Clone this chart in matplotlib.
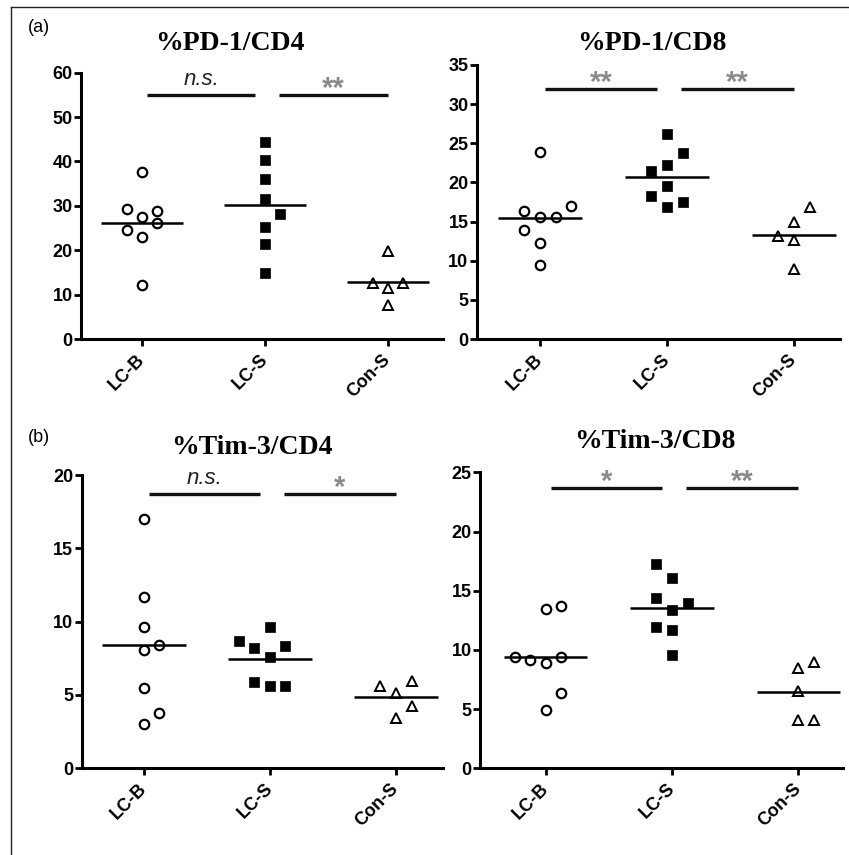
import numpy as np
import matplotlib
matplotlib.use('Agg')
import matplotlib.pyplot as plt
from matplotlib.lines import Line2D

groups = ['LC-B', 'LC-S', 'Con-S']

# values, one list per group, with jitter slots
pd1_cd4 = [[37.6, 29.2, 28.9, 27.4, 26.2, 24.6, 22.9, 12.2],
           [44.3, 40.4, 36.1, 31.5, 28.1, 25.3, 21.4, 14.8],
           [19.9, 12.6, 12.7, 11.4, 7.7]]
pd1_cd4_slots = [[0, -1, 1, 0, 1, -1, 0, 0],
                 [0, 0, 0, 0, 1, 0, 0, 0],
                 [0, -1, 1, 0, 0]]

pd1_cd8 = [[23.9, 16.4, 15.6, 15.6, 17.0, 13.9, 12.3, 9.4],
           [26.2, 23.7, 21.5, 22.2, 19.5, 18.3, 17.5, 16.8],
           [16.9, 15.0, 13.2, 12.6, 9.0]]
pd1_cd8_slots = [[0, -1, 0, 1, 2, -1, 0, 0],
                 [0, 1, -1, 0, 0, -1, 1, 0],
                 [1, 0, -1, 0, 0]]

tim3_cd4 = [[17.0, 11.7, 9.65, 8.06, 8.4, 5.45, 3.75, 3.0],
            [9.65, 8.68, 8.18, 8.36, 7.6, 5.9, 5.63, 5.63],
            [5.63, 5.97, 5.15, 4.25, 3.45]]
tim3_cd4_slots = [[0, 0, 0, 0, 1, 0, 1, 0],
                  [0, -2, -1, 1, 0, -1, 0, 1],
                  [-1, 1, 0, 1, 0]]

tim3_cd8 = [[13.45, 13.7, 9.43, 9.15, 8.92, 9.43, 6.33, 4.92],
            [17.25, 16.1, 14.35, 13.37, 13.93, 11.9, 11.68, 9.57],
            [8.45, 9.0, 6.53, 4.08, 4.08]]
tim3_cd8_slots = [[0, 1, -2, -1, 0, 1, 1, 0],
                  [-1, 0, -1, 0, 1, -1, 0, 0],
                  [0, 1, 0, 0, 1]]

titles = ['%PD-1/CD4', '%PD-1/CD8', '%Tim-3/CD4', '%Tim-3/CD8']
ymax = [60, 35, 20, 25]
ystep = [10, 5, 5, 5]
sig_y = [55, 31.9, 18.7, 23.65]
sig_labels = [['n.s.', '**'], ['**', '**'], ['n.s.', '*'], ['*', '**']]

data = [pd1_cd4, pd1_cd8, tim3_cd4, tim3_cd8]
slots = [pd1_cd4_slots, pd1_cd8_slots, tim3_cd4_slots, tim3_cd8_slots]

# layout (figure fractions) and x-limits per panel
rects = [[0.0954, 0.6035, 0.4264, 0.3115],
         [0.5615, 0.6035, 0.4280, 0.3205],
         [0.0962, 0.1014, 0.4256, 0.3430],
         [0.5654, 0.1014, 0.4276, 0.3462]]
xlims = [(-0.496, 2.447), (-0.498, 2.362), (-0.494, 2.373), (-0.52, 2.354)]
title_xy = [(230, 43), (652, 43), (252, 447), (655, 441)]

markers = [dict(marker='o', mfc='white', mec='black', ms=6.8, mew=1.6),
           dict(marker='s', mfc='black', mec='black', ms=7.2, mew=0.5),
           dict(marker='^', mfc='white', mec='black', ms=6.8, mew=1.4)]

tick_font = ['Liberation Sans Narrow', 'Liberation Sans', 'DejaVu Sans']
sans = ['Liberation Sans', 'DejaVu Sans']

W, H = 849, 855
fig = plt.figure(figsize=(W / 100, H / 100), dpi=100)

slot_w = 0.123
for i in range(4):
    ax = fig.add_axes(rects[i])
    for g in range(3):
        vals = np.array(data[i][g])
        xs = g + slot_w * np.array(slots[i][g])
        ax.plot(xs, vals, ls='none', zorder=3, clip_on=False, **markers[g])
        m = vals.mean()
        ax.plot([g - 0.33, g + 0.33], [m, m], color='black', lw=1.8, zorder=4,
                solid_capstyle='butt')
    # significance bars
    y = sig_y[i]
    for (x0, x1), lab in zip([(0.04, 0.92), (1.11, 2.0)], sig_labels[i]):
        ax.plot([x0, x1], [y, y], color='#111111', lw=2.4, solid_capstyle='butt',
                clip_on=False)
        xm = (x0 + x1) / 2
        if lab == 'n.s.':
            ax.annotate(lab, (xm, y), xytext=(0, 7), textcoords='offset points',
                        ha='center', va='baseline', fontsize=16, style='italic',
                        color='#222222', family=sans, annotation_clip=False)
        else:
            ax.annotate(lab, (xm, y), xytext=(0, -1.5), textcoords='offset points',
                        ha='center', va='baseline', fontsize=21, fontweight='bold',
                        color='#8a8a8a', family=sans, annotation_clip=False)
    ax.set_xlim(*xlims[i])
    ax.set_ylim(0, ymax[i])
    ax.set_yticks(np.arange(0, ymax[i] + 1, ystep[i]))
    ax.set_xticks(range(3))
    ax.set_xticklabels(groups, rotation=45, ha='right', va='center',
                       rotation_mode='anchor')
    for s in ['top', 'right']:
        ax.spines[s].set_visible(False)
    for s in ['left', 'bottom']:
        ax.spines[s].set_linewidth(2.2)
    ax.tick_params(width=2.0, length=5, direction='out')
    ax.tick_params(axis='x', pad=8)
    ax.tick_params(axis='y', pad=1)
    for lab in ax.get_xticklabels() + ax.get_yticklabels():
        lab.set_family(tick_font)
        lab.set_fontweight('bold')
        lab.set_fontsize(13)
    ax.patch.set_alpha(0)
    tx, ty = title_xy[i]
    fig.text(tx / W, 1 - ty / H, titles[i], ha='center', va='center',
             fontsize=20, fontweight='bold',
             family=['Liberation Serif', 'DejaVu Serif'])

fig.text(39 / W, 1 - 28 / H, '(a)', ha='center', va='center', fontsize=13,
         family=sans)
fig.text(39 / W, 1 - 437 / H, '(b)', ha='center', va='center', fontsize=13,
         family=sans)

# frame around the figure (left and top edges)
fig.add_artist(Line2D([11 / W, 11 / W], [0, 1 - 7 / H], color='#222222', lw=1.0))
fig.add_artist(Line2D([11 / W, 1], [1 - 7 / H, 1 - 7 / H], color='#222222', lw=1.0))

fig.savefig('out.png', dpi=100)
